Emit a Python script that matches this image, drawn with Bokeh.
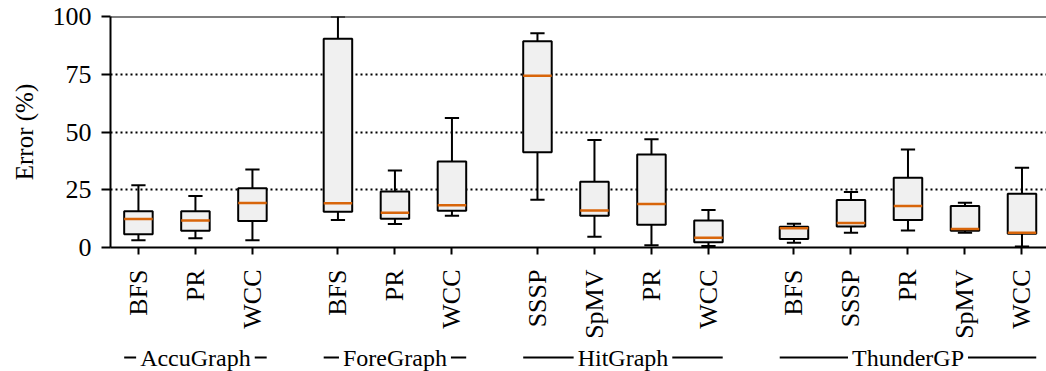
import math
from bokeh.plotting import figure
from bokeh.models import FixedTicker, ColumnDataSource, Range1d, Span
from bokeh.layouts import column
from bokeh.transform import dodge
from bokeh.embed import file_html
from bokeh.resources import INLINE
from bokeh.core.properties import value

# ---------------- data ----------------
groups = ["AccuGraph", "ForeGraph", "HitGraph", "ThunderGP"]
group_tests = [
    ["BFS", "PR", "WCC"],
    ["BFS", "PR", "WCC"],
    ["SSSP", "SpMV", "PR", "WCC"],
    ["BFS", "SSSP", "PR", "SpMV", "WCC"],
]
whisker_lo = [3.1, 4.0, 3.1, 11.9, 10.2, 13.7, 20.7, 4.6, 1.0, 0.6, 2.1, 6.4, 7.4, 6.4, 0.4]
q1 = [5.7, 7.2, 11.5, 15.5, 12.4, 15.9, 41.2, 13.7, 9.9, 2.3, 3.7, 9.1, 11.9, 7.2, 6.0]
median = [12.3, 11.7, 19.3, 19.2, 15.0, 18.3, 74.4, 16.0, 18.8, 4.2, 8.3, 10.6, 18.0, 8.0, 6.4]
q3 = [15.7, 15.7, 25.7, 90.4, 24.2, 37.2, 89.3, 28.5, 40.3, 11.7, 9.0, 20.6, 30.2, 18.0, 23.3]
whisker_hi = [27.0, 22.3, 33.8, 100.0, 33.3, 56.1, 92.7, 46.5, 46.9, 16.2, 10.3, 24.0, 42.4, 19.4, 34.5]
y_ticks = [0, 25, 50, 75, 100]
grid_ticks = [25, 50, 75, 100]

# ---------------- layout of categories ----------------
GAP = 1.5
pos, labels, g_start, g_end, g_mid = [], [], [], [], []
cur = 0.0
for tests in group_tests:
    start = cur
    for t in tests:
        pos.append(cur)
        labels.append(t)
        cur += 1.0
    end = cur - 1.0
    g_start.append(start - 0.25)
    g_end.append(end + 0.25)
    g_mid.append((start + end) / 2)
    cur = end + GAP

src = ColumnDataSource(dict(pos=pos, lo=whisker_lo, q1=q1, med=median, q3=q3, hi=whisker_hi))

FONT = "Liberation Serif"
MED_COLOR = "#d8650a"

W = 1046
TOP = 16
FRAME_H = 248 - TOP
BOTTOM = 93
p = figure(width=W, height=TOP + FRAME_H + BOTTOM,
           x_range=Range1d(-0.49, 15.93), y_range=Range1d(0, 100),
           output_backend="svg", toolbar_location=None,
           min_border_left=110, min_border_right=0, min_border_top=TOP, min_border_bottom=BOTTOM)

# whiskers
p.segment(x0="pos", y0="lo", x1="pos", y1="q1", source=src, line_color="black", line_width=2)
p.segment(x0="pos", y0="q3", x1="pos", y1="hi", source=src, line_color="black", line_width=2)
p.segment(x0=dodge("pos", -0.125), y0="lo", x1=dodge("pos", 0.125), y1="lo", source=src,
          line_color="black", line_width=2)
p.segment(x0=dodge("pos", -0.125), y0="hi", x1=dodge("pos", 0.125), y1="hi", source=src,
          line_color="black", line_width=2)
# boxes
p.vbar(x="pos", width=0.5, bottom="q1", top="q3", source=src,
       fill_color="#f0f0f0", line_color="black", line_width=2)
# medians
p.segment(x0=dodge("pos", -0.25), y0="med", x1=dodge("pos", 0.25), y1="med", source=src,
          line_color=MED_COLOR, line_width=2.5)

# axes
p.xaxis.ticker = FixedTicker(ticks=pos)
p.xaxis.major_label_overrides = {float(x): l for x, l in zip(pos, labels)}
p.xaxis.major_label_orientation = math.pi / 2
p.xaxis.minor_tick_line_color = None
p.xaxis.major_tick_out = 7
p.xaxis.major_tick_in = 0
p.xaxis.major_label_standoff = 15

p.yaxis.ticker = FixedTicker(ticks=y_ticks)
p.yaxis.minor_tick_line_color = None
p.yaxis.major_tick_out = 9
p.yaxis.major_tick_in = 0
p.yaxis.major_label_standoff = 10
p.yaxis.axis_label = "Error (%)"
p.yaxis.axis_label_standoff = 12

for ax in (p.xaxis, p.yaxis):
    ax.axis_line_color = "black"
    ax.axis_line_width = 2
    ax.major_tick_line_color = "black"
    ax.major_tick_line_width = 2
    ax.major_label_text_font = FONT
    ax.major_label_text_color = "black"
p.xaxis.major_label_text_font_size = "26px"
p.yaxis.major_label_text_font_size = "26px"
p.yaxis.axis_label_text_font = FONT
p.yaxis.axis_label_text_font_size = "25px"
p.yaxis.axis_label_text_font_style = "normal"
p.yaxis.axis_label_text_color = "black"

p.xgrid.grid_line_color = None
p.ygrid.ticker = FixedTicker(ticks=grid_ticks)
p.ygrid.grid_line_color = "black"
p.ygrid.grid_line_width = 2
p.ygrid.grid_line_dash = "2 3"

p.outline_line_color = None
p.add_layout(Span(location=y_ticks[-1], dimension="width", line_color="black", line_width=2))

# group labels
G_H = 371 - (TOP + FRAME_H + BOTTOM)
p2 = figure(width=W, height=G_H, x_range=p.x_range, y_range=Range1d(0, G_H),
            output_backend="svg", toolbar_location=None,
            x_axis_type=None, y_axis_type=None,
            min_border_left=110, min_border_right=0, min_border_top=0, min_border_bottom=0)
p2.outline_line_color = None
p2.xgrid.grid_line_color = None
p2.ygrid.grid_line_color = None
line_y = G_H - 16
gsrc = ColumnDataSource(dict(x0=g_start, x1=g_end, xm=g_mid, name=groups, y=[line_y] * len(groups)))
p2.segment(x0="x0", y0="y", x1="x1", y1="y", source=gsrc, line_color="black", line_width=2)
p2.text(x="xm", y="y", text="name", source=gsrc, text_font=value(FONT), text_font_size="24px",
        text_align="center", text_baseline="middle", text_color="black",
        background_fill_color="white", padding=4)

layout = column(p, p2, spacing=0)
open("out.html", "w").write(file_html(layout, INLINE))
